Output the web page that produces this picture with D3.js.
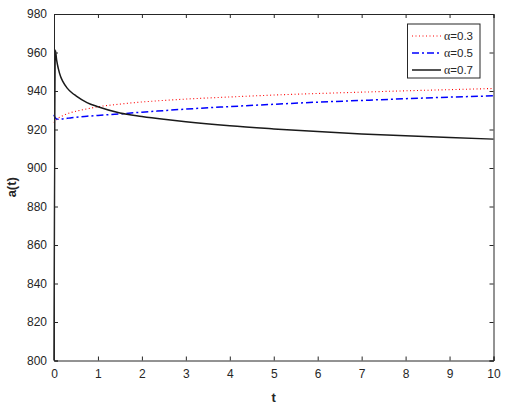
<!DOCTYPE html>
<html>
<head>
<meta charset="utf-8">
<script src="https://cdn.jsdelivr.net/npm/d3@7"></script>
<style>
  body { margin: 0; background: #fff; }
  svg { display: block; font-family: 'Liberation Sans', Arial, sans-serif; }
</style>
</head>
<body>
<div id="chart"></div>
<script>
'use strict';

// values
let tValues = [0, 0.03, 0.06, 0.1, 0.15, 0.2, 0.3, 0.4, 0.5, 0.75, 1, 1.5, 2, 2.5, 3, 4, 5, 6, 7, 8, 9, 10];
let alpha03 = [923.5, 924.5, 925.2, 926, 926.7, 927.2, 928.2, 928.9, 929.5, 930.7, 931.8, 933.2, 934.3, 935.1, 935.8, 936.9, 937.9, 938.7, 939.4, 940.1, 940.7, 941.3];
let alpha05 = [927.6, 926, 925.5, 925.3, 925.4, 925.5, 925.8, 926.1, 926.3, 926.9, 927.3, 928.1, 929, 929.8, 930.6, 931.9, 933.1, 934.2, 935.1, 936, 936.8, 937.5];
let alpha07 = [800, 961.3, 956, 951.5, 947.5, 945, 941.5, 939.2, 937.5, 934, 931.8, 928.6, 926.8, 925.3, 924, 921.9, 920.3, 918.9, 917.7, 916.7, 915.8, 915];

let xTicks = [0, 1, 2, 3, 4, 5, 6, 7, 8, 9, 10];
let yTicks = [800, 820, 840, 860, 880, 900, 920, 940, 960, 980];

let seriesNames = ['=0.3', '=0.5', '=0.7'];
let seriesColors = ['#ff0000', '#0000ff', '#1a1a1a'];
let seriesDashes = ['1,2.5', '7,3,2,3', null];
let seriesWidths = [1.1, 1.5, 1.5];

let width = 507;
let height = 408;
let plotLeft = 54, plotRight = 493.5, plotTop = 14, plotBottom = 360.5;
let axisColor = '#262626';

let svg = d3.select('#chart')
    .append('svg')
    .attr('width', width)
    .attr('height', height);

let x = d3.scaleLinear().domain([0, 10]).range([plotLeft, plotRight]);
let y = d3.scaleLinear().domain([800, 980]).range([plotBottom, plotTop]);

// curves
let data = [alpha03, alpha05, alpha07];
let line = d3.line()
    .x(function(d, i) { return x(tValues[i]); })
    .y(function(d) { return y(d); })
    .curve(d3.curveMonotoneX);

let plot = svg.append('g').attr('class', 'plot');
data.forEach(function(values, k) {
    plot.append('path')
        .attr('d', line(values))
        .attr('fill', 'none')
        .attr('stroke', seriesColors[k])
        .attr('stroke-width', seriesWidths[k])
        .attr('stroke-dasharray', seriesDashes[k]);
});

function styleAxis(g) {
    g.select('.domain').attr('stroke', axisColor).attr('stroke-width', 1);
    g.selectAll('.tick line').attr('stroke', axisColor).attr('stroke-width', 1);
    g.selectAll('.tick text')
        .attr('fill', axisColor)
        .style('font-size', '12px')
        .style('font-family', "'Liberation Sans', Arial, sans-serif");
}

// axes, ticks inward on all four sides
let tick = 4;
svg.append('g')
    .attr('transform', 'translate(0,' + plotBottom + ')')
    .call(d3.axisBottom(x).tickValues(xTicks).tickSize(-tick).tickPadding(9))
    .call(styleAxis);
svg.append('g')
    .attr('transform', 'translate(0,' + plotTop + ')')
    .call(d3.axisTop(x).tickValues(xTicks).tickSize(-tick).tickFormat(''))
    .call(styleAxis);
svg.append('g')
    .attr('transform', 'translate(' + plotLeft + ',0)')
    .call(d3.axisLeft(y).tickValues(yTicks).tickSize(-tick).tickPadding(7))
    .call(styleAxis);
svg.append('g')
    .attr('transform', 'translate(' + plotRight + ',0)')
    .call(d3.axisRight(y).tickValues(yTicks).tickSize(-tick).tickFormat(''))
    .call(styleAxis);

// axis labels
svg.append('text')
    .attr('x', (plotLeft + plotRight) / 2)
    .attr('y', 402)
    .attr('text-anchor', 'middle')
    .attr('fill', axisColor)
    .style('font-size', '13px')
    .style('font-weight', 'bold')
    .text('t');

svg.append('text')
    .attr('transform', 'translate(16,' + ((plotTop + plotBottom) / 2) + ') rotate(-90)')
    .attr('text-anchor', 'middle')
    .attr('fill', axisColor)
    .style('font-size', '13px')
    .style('font-weight', 'bold')
    .text('a(t)');

// legend
let legend = svg.append('g').attr('class', 'legend');
legend.append('rect')
    .attr('x', 407.5)
    .attr('y', 24)
    .attr('width', 72.5)
    .attr('height', 54)
    .attr('fill', '#fff')
    .attr('stroke', axisColor)
    .attr('stroke-width', 1);

seriesNames.forEach(function(name, k) {
    let ly = 36 + k * 17;
    legend.append('line')
        .attr('x1', 412)
        .attr('x2', 441)
        .attr('y1', ly)
        .attr('y2', ly)
        .attr('stroke', seriesColors[k])
        .attr('stroke-width', seriesWidths[k])
        .attr('stroke-dasharray', seriesDashes[k]);
    let label = legend.append('text')
        .attr('x', 444)
        .attr('y', ly + 4)
        .attr('fill', axisColor)
        .style('font-size', '11.5px');
    label.append('tspan')
        .style('font-family', "'Liberation Serif', 'DejaVu Serif', serif")
        .style('font-size', '12px')
        .text('α');
    label.append('tspan').text(name);
});
</script>
</body>
</html>
